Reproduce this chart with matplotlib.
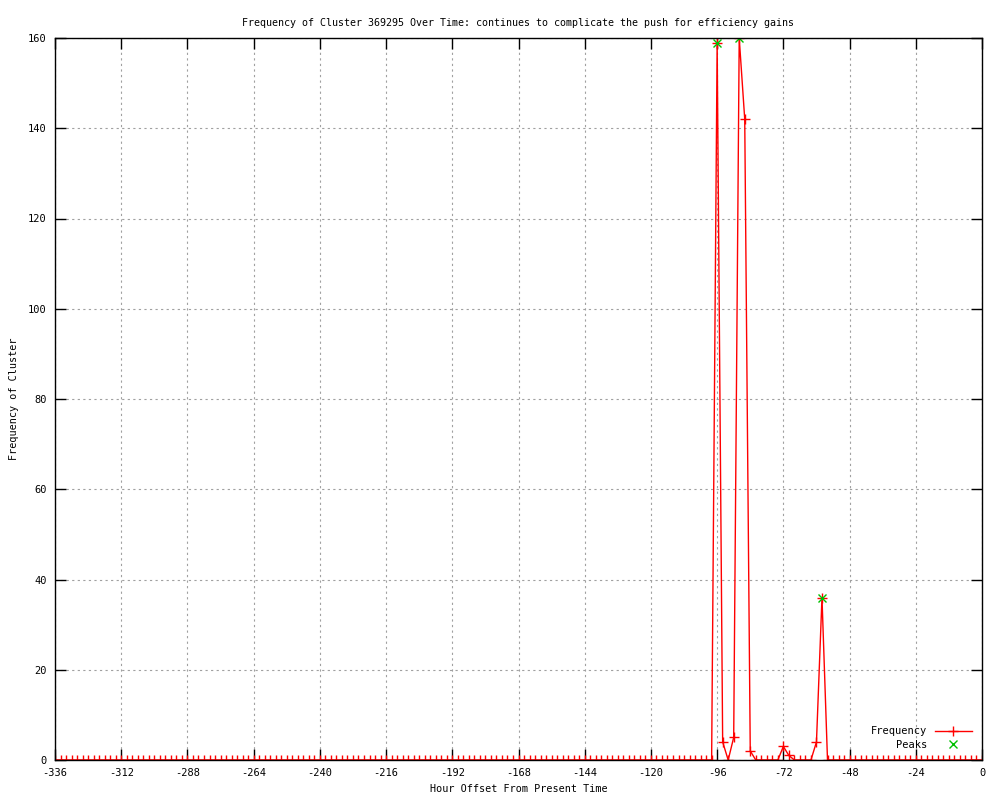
import numpy as np
import matplotlib.pyplot as plt

# Stunde relativ zur Gegenwart (alle 2 Stunden ein Wert)
hours = np.arange(-336, 1, 2)

# Nicht-null Werte, alles andere ist 0
nonzero_hours = [-96, -94, -90, -88, -86, -84, -72, -70, -60, -58]
nonzero_vals = [159, 4, 5, 160, 142, 2, 3, 1, 4, 36]

freq = np.zeros(len(hours))
for h, v in zip(nonzero_hours, nonzero_vals):
    freq[hours == h] = v

peak_hours = [-96, -88, -58]
peak_vals = [159, 160, 36]

x_ticks = np.arange(-336, 1, 24)
y_ticks = np.arange(0, 161, 20)

plt.rcParams['font.family'] = ['DejaVu Sans Mono']
plt.rcParams['font.size'] = 7.5
plt.rcParams['axes.unicode_minus'] = False

fig = plt.figure(figsize=(10, 8), dpi=100)
ax = fig.add_axes([0.055, 0.05, 0.927, 0.9025])

ax.plot(hours, freq, color='red', linewidth=1, marker='+', markersize=7,
        markeredgewidth=1, label='Frequency')
ax.plot(peak_hours, peak_vals, linestyle='none', color='#00c000', marker='x',
        markersize=6, markeredgewidth=1, label='Peaks')

ax.set_xlim(-336, 0)
ax.set_ylim(0, 160)
ax.set_xticks(x_ticks)
ax.set_yticks(y_ticks)
ax.tick_params(direction='in', length=8, width=1, top=True, right=True,
               labelsize=7.5, pad=6)
ax.grid(True, color='#a0a0a0', linestyle=(0, (2, 3)), linewidth=0.8)
for s in ax.spines.values():
    s.set_linewidth(1)

ax.set_title('Frequency of Cluster 369295 Over Time: continues to complicate the push for efficiency gains',
             fontsize=7.2, pad=9)
ax.set_xlabel('Hour Offset From Present Time', fontsize=7.3, labelpad=4)
ax.set_ylabel('Frequency of Cluster', fontsize=7.3)
ax.yaxis.set_label_coords(-0.039, 0.5)

leg = ax.legend(loc='lower right', frameon=False, markerfirst=False,
                handlelength=3.5, fontsize=7.5, borderaxespad=0.6,
                labelspacing=0.3)

plt.savefig('out.png', dpi=100)
